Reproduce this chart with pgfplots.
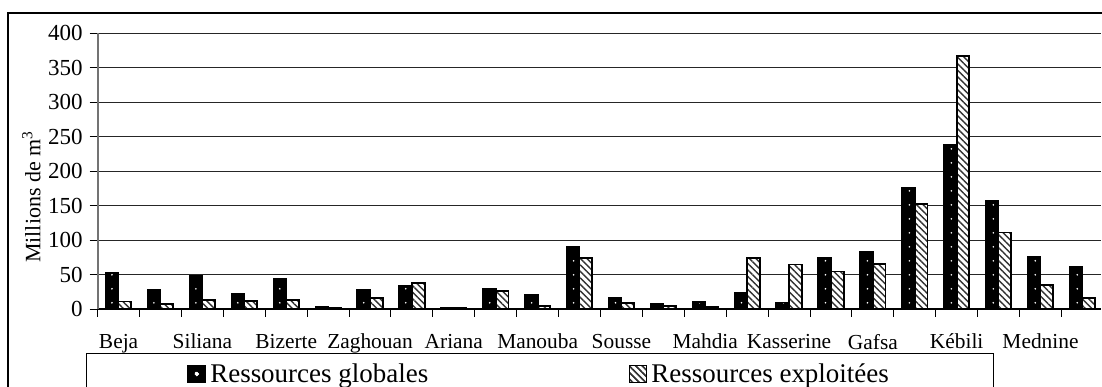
\documentclass[border=0pt]{standalone}
\usepackage{fontspec}
\setmainfont{Liberation Serif}
\usepackage{pgfplots}
\pgfplotsset{compat=1.18}
\usetikzlibrary{patterns.meta}

\pgfplotstableread{
x glob expl
0 53 11
1 27.5 7
2 48 13
3 22 12
4 43 12.5
5 2.5 1
6 27.5 15.5
7 34 37.5
8 2 1
9 28.5 26.5
10 21 4
11 90 74
12 15.5 9
13 7.5 4.5
14 10 3
15 23.5 74.5
16 9.5 64.5
17 73.5 54.5
18 83.5 65
19 175 152
20 238.5 367
21 157 111
22 75 35
23 60.5 15.5
}\datatable

\begin{document}
\begin{tikzpicture}
\begin{axis}[
  at={(0,0)}, anchor=south west,
  scale only axis, width=502.15pt, height=137.95pt,
  ybar=0pt, bar width=6.35pt,
  xmin=-0.5, xmax=23.45, ymin=0, ymax=400,
  ytick={0,50,...,400},
  axis x line*=bottom, axis y line*=left,
  x axis line style={black, line width=0.75pt},
  y axis line style={black!55, line width=0.9pt},
  ymajorgrids, grid style={black!85, line width=0.5pt},
  xtick={-0.5,0.5,...,23.5}, xticklabels={},
  extra x ticks={0,2,...,22},
  extra x tick labels={Beja,Siliana,Bizerte,Zaghouan,Ariana,Manouba,Sousse,Mahdia,Kasserine,Gafsa,Kébili,Mednine},
  extra x tick style={major tick length=0pt, xticklabel style={yshift=-9pt}},
  tick align=outside, major tick length=4pt,
  tick style={black, line width=0.5pt},
  xticklabel style={font=\rmfamily\fontsize{10.7}{12.8}\selectfont},
  yticklabel style={font=\rmfamily\fontsize{11.5}{13.8}\selectfont},
  /pgf/number format/assume math mode=true,
  ylabel={Millions de m\textsuperscript{3}},
  ylabel style={font=\rmfamily\fontsize{11}{13.2}\selectfont, at={(axis description cs:-0.066,0.407)}, anchor=center},
  legend columns=2,
  legend style={overlay, at={(axis description cs:-0.01163,-0.1598)}, anchor=north west,
    draw=black, line width=0.6pt, font=\rmfamily\fontsize{13.5}{16}\selectfont,
    inner xsep=50.5pt, inner ysep=3pt,
    /tikz/every even column/.append style={column sep=98.5pt}},
]
\addplot[draw=black, line width=0.9pt, fill=black,
  postaction={pattern={Dots[distance=7pt, radius=0.45pt]}, pattern color=white},
  legend image code/.code={\draw[black, fill=black] (0pt,-4pt) rectangle (8.5pt,4.5pt); \fill[white] (4.25pt,0.25pt) circle (0.5pt);}]
  table[x=x, y=glob] {\datatable};
\addlegendentry{Ressources globales}
\addplot[draw=black, line width=0.9pt, fill=white,
  postaction={pattern={Lines[angle=-45, distance=2.3pt, line width=0.7pt]}, pattern color=black!80},
  legend image code/.code={\draw[black, line width=0.6pt, fill=white, postaction={pattern={Lines[angle=-45, distance=2.3pt, line width=0.7pt]}, pattern color=black!80}] (0pt,-4pt) rectangle (8.5pt,4.5pt);}]
  table[x=x, y=expl] {\datatable};
\addlegendentry{Ressources exploitées}
\end{axis}
\draw[overlay, black, line width=0.75pt] (-44.85pt,-60pt) rectangle (540pt,148.1pt);
\useasboundingbox (-48.85pt,-38.9pt) rectangle (502.15pt,154.6pt);
\end{tikzpicture}
\end{document}
